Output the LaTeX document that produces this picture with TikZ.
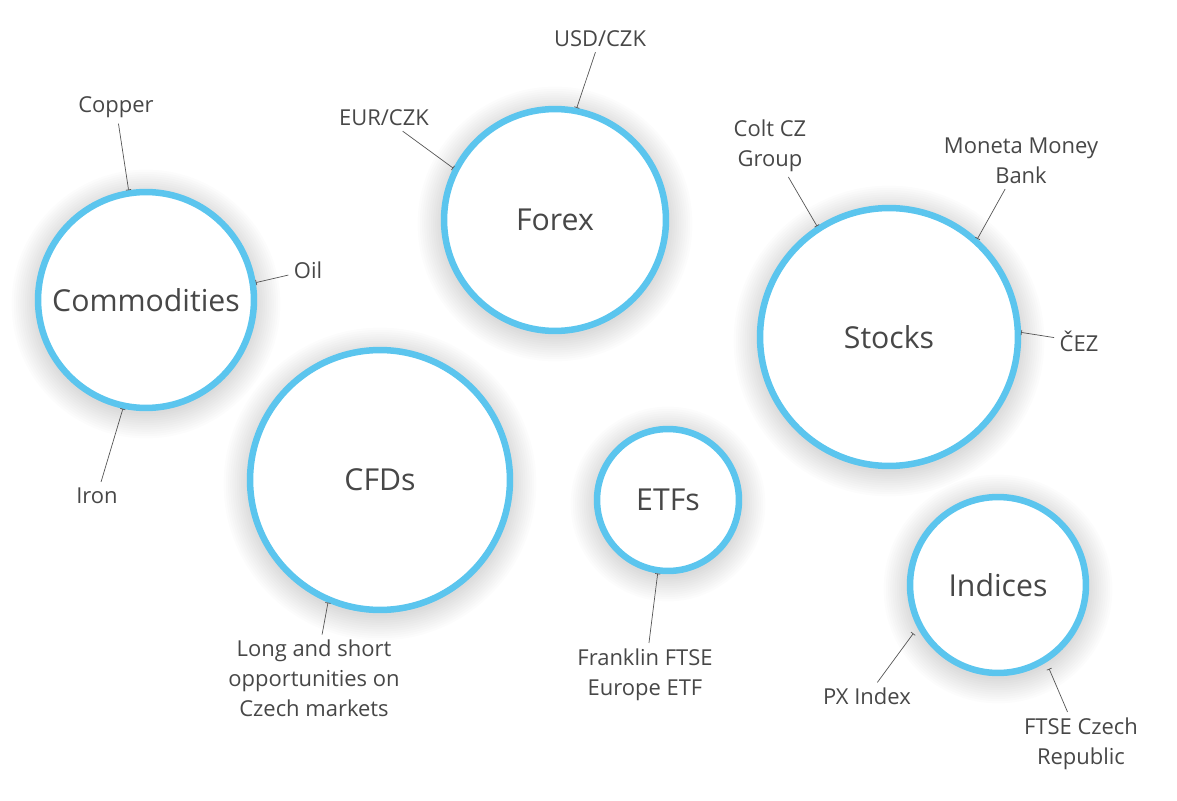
\documentclass[tikz,border=0pt]{standalone}
\usepackage{fontspec}
\setmainfont{Open Sans}
\usetikzlibrary{arrows.meta}

\definecolor{ringblue}{HTML}{5BC5EE}
\definecolor{txtgray}{HTML}{474747}
\definecolor{linegray}{HTML}{555555}

\tikzset{
    market/.style={circle, draw=ringblue, fill=white, line width=0.13cm,
        minimum size=#1*0.04cm, inner sep=0pt, text=txtgray,
        font=\fontsize{17.2}{20}\selectfont},
    item/.style={text=txtgray, align=center, inner sep=3pt, yshift=-0.05cm,
        font=\fontsize{12.5}{17}\selectfont},
    pin/.style={draw=linegray, line width=0.4pt, -{Bar[width=3pt, line width=0.4pt]}}
}

\begin{document}
\begin{tikzpicture}[x=0.02cm, y=-0.02cm]
    \useasboundingbox (0,0) rectangle (1177,801);

    % soft halo under the rings
    \foreach \cx/\cy/\cr in {146/300/108, 555/220/111, 889/337/129, 380/480/130, 668/500/71, 998/585/88}
        \foreach \k in {1,...,12}
            \fill[black, opacity=0.011] (\cx,\cy+4) circle ({\cr+\k*2.2});

    \node[market=108] (comm) at (146,300) {Commodities};
    \node[market=111] (forex) at (555,220) {Forex};
    \node[market=129] (stocks) at (889,337) {Stocks};
    \node[market=130] (cfds) at (380,480) {CFDs};
    \node[market=71] (etfs) at (668,500) {ETFs};
    \node[market=88] (indices) at (998,585) {Indices};

    \node[item] (copper) at (116,105) {Copper};
    \node[item] (oil) at (308,268) {Oil};
    \node[item] (iron) at (97,493) {Iron};
    \draw[pin] (copper) -- (comm.99);
    \draw[pin] (oil) -- (comm.9);
    \draw[pin] (iron) -- (comm.258);

    \node[item] (eur) at (384,115) {EUR/CZK};
    \node[item] (usd) at (600,36) {USD/CZK};
    \draw[pin] (eur) -- (forex.153);
    \draw[pin] (usd) -- (forex.79);

    \node[item] (colt) at (770,143) {Colt CZ\\Group};
    \node[item] (moneta) at (1021,158) {Moneta Money\\Bank};
    \node[item] (cez) at (1079,339) {ČEZ};
    \draw[pin] (colt) -- (stocks.123);
    \draw[pin] (moneta) -- (stocks.48);
    \draw[pin] (cez) -- (stocks.2);

    \node[item] (longshort) at (314,676) {Long and short\\opportunities on\\Czech markets};
    \draw[pin] (longshort) -- (cfds.247);

    \node[item] (franklin) at (645,672) {Franklin FTSE\\Europe ETF};
    \draw[pin] (franklin) -- (etfs.262);

    \node[item] (px) at (867,694) {PX Index};
    \node[item] (ftse) at (1081,741) {FTSE Czech\\Republic};
    \draw[pin, shorten >=7*0.02cm] (px) -- (indices.208);
    \draw[pin, shorten >=7*0.02cm] (ftse) -- (indices.302);
\end{tikzpicture}
\end{document}
